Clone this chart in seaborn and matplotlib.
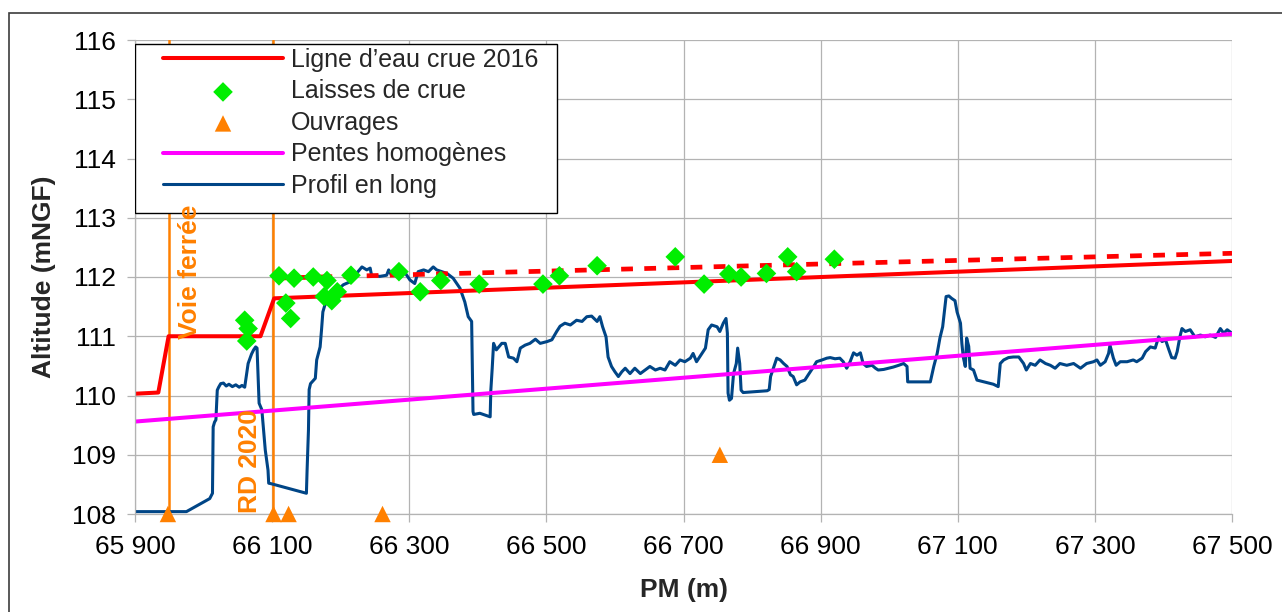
import matplotlib
matplotlib.use("Agg")
import matplotlib.pyplot as plt
import seaborn as sns
from matplotlib.patches import Rectangle
from matplotlib.ticker import FuncFormatter, FixedLocator, MultipleLocator

# --- Ligne d'eau de la crue 2016 (trait continu) ---
ligne_pm = [65900, 65934, 65949, 66083, 66103, 67500]
ligne_z = [110.03, 110.05, 111.00, 111.00, 111.64, 112.27]

# --- Ligne d'eau calée sur les laisses (pointillés) ---
ligne_laisses_pm = [66103, 67500]
ligne_laisses_z = [111.98, 112.40]

# --- Laisses de crue ---
laisses_pm = [66060, 66065, 66063, 66110, 66132, 66120, 66127, 66160, 66180,
              66176, 66187, 66195, 66215, 66285, 66316, 66346, 66402, 66495,
              66519, 66574, 66688, 66730, 66766, 66784, 66821, 66852, 66865,
              66920]
laisses_z = [111.27, 111.13, 110.92, 112.02, 111.98, 111.56, 111.30, 112.00,
             111.94, 111.67, 111.60, 111.75, 112.03, 112.09, 111.75, 111.94,
             111.88, 111.88, 112.02, 112.19, 112.34, 111.88, 112.05, 112.00,
             112.06, 112.34, 112.09, 112.30]

# --- Ouvrages ---
ouvrages_pm = [65948, 66102, 66124, 66261, 66753]
ouvrages_z = [108.0, 108.0, 108.0, 108.0, 109.0]

# --- Pentes homogènes ---
pentes_pm = [65900, 67500]
pentes_z = [109.56, 111.04]

# --- Repères des franchissements ---
reperes_pm = [65950, 66102]
reperes_noms = ["Voie ferrée", "RD 2020"]
reperes_z_texte = [110.95, 108.02]

# --- Graduations de l'axe des PM ---
graduations_pm = [65900, 66100, 66300, 66500, 66700, 66900, 67100, 67300, 67500]

# --- Profil en long du fond ---
profil_pm = [
    65900, 65975, 66009, 66013, 66014, 66016, 66018, 66020, 66022, 66025,
    66029, 66033, 66037, 66042, 66047, 66052, 66056, 66060, 66065, 66070,
    66073, 66076, 66078, 66081, 66085, 66090, 66094, 66095, 66099, 66150,
    66151, 66153, 66154, 66156, 66163, 66165, 66170, 66172, 66174, 66177,
    66182, 66189, 66197, 66204, 66214, 66221, 66231, 66238, 66243, 66245,
    66257, 66267, 66270, 66274, 66282, 66291, 66301, 66308, 66313, 66321,
    66328, 66335, 66340, 66355, 66364, 66374, 66381, 66386, 66391, 66393,
    66394, 66403, 66418, 66419, 66421, 66423, 66427, 66435, 66440, 66445,
    66452, 66457, 66462, 66469, 66476, 66484, 66491, 66501, 66508, 66515,
    66520, 66527, 66535, 66544, 66552, 66559, 66566, 66574, 66578, 66582,
    66587, 66590, 66595, 66600, 66605, 66610, 66615, 66622, 66629, 66637,
    66644, 66651, 66659, 66666, 66673, 66680, 66688, 66695, 66702, 66710,
    66714, 66719, 66727, 66732, 66736, 66741, 66749, 66753, 66758, 66762,
    66764, 66765, 66767, 66770, 66773, 66777, 66779, 66782, 66784, 66787,
    66822, 66825, 66827, 66831, 66836, 66841, 66846, 66851, 66856, 66860,
    66865, 66870, 66877, 66882, 66890, 66894, 66902, 66909, 66914, 66921,
    66928, 66933, 66938, 66943, 66948, 66953, 66958, 66962, 66967, 66975,
    66980, 66984, 66992, 66999, 67006, 67014, 67021, 67026, 67027, 67060,
    67065, 67070, 67074, 67078, 67083, 67087, 67091, 67096, 67099, 67104,
    67106, 67108, 67111, 67113, 67116, 67118, 67123, 67128, 67152, 67159,
    67162, 67167, 67174, 67181, 67189, 67196, 67200, 67206, 67213, 67220,
    67228, 67235, 67242, 67249, 67259, 67269, 67279, 67288, 67298, 67303,
    67308, 67315, 67320, 67322, 67327, 67331, 67337, 67347, 67356, 67361,
    67369, 67374, 67381, 67388, 67393, 67398, 67403, 67408, 67412, 67417,
    67420, 67424, 67427, 67432, 67439, 67446, 67454, 67461, 67468, 67476,
    67483, 67488, 67493, 67500]
profil_z = [
    108.04, 108.04, 108.26, 108.35, 109.47, 109.55, 109.59, 110.09, 110.14, 110.20,
    110.21, 110.16, 110.19, 110.15, 110.18, 110.14, 110.17, 110.14, 110.54, 110.70,
    110.77, 110.82, 110.80, 109.87, 109.76, 109.08, 108.74, 108.52, 108.51, 108.35,
    108.74, 109.42, 110.10, 110.20, 110.29, 110.60, 110.82, 111.10, 111.41, 111.53,
    111.58, 111.70, 111.80, 111.87, 111.92, 112.03, 112.17, 112.12, 112.15, 112.03,
    112.01, 112.03, 112.12, 112.03, 112.09, 112.12, 111.95, 111.89, 112.09, 112.12,
    112.09, 112.17, 112.12, 112.06, 111.98, 111.81, 111.58, 111.33, 111.25, 109.73,
    109.68, 109.70, 109.64, 110.09, 110.46, 110.88, 110.77, 110.88, 110.88, 110.65,
    110.63, 110.57, 110.80, 110.85, 110.88, 110.95, 110.88, 110.91, 110.94, 111.08,
    111.17, 111.22, 111.19, 111.27, 111.25, 111.33, 111.34, 111.25, 111.33, 111.16,
    110.99, 110.65, 110.49, 110.40, 110.32, 110.40, 110.46, 110.37, 110.46, 110.37,
    110.43, 110.49, 110.43, 110.46, 110.43, 110.57, 110.51, 110.60, 110.57, 110.63,
    110.71, 110.57, 110.71, 110.80, 111.11, 111.19, 111.16, 111.08, 111.22, 111.30,
    111.05, 110.04, 109.92, 109.95, 110.37, 110.54, 110.80, 110.54, 110.09, 110.05,
    110.08, 110.10, 110.32, 110.46, 110.63, 110.60, 110.54, 110.49, 110.35, 110.32,
    110.18, 110.23, 110.26, 110.35, 110.49, 110.57, 110.60, 110.63, 110.64, 110.62,
    110.63, 110.57, 110.46, 110.57, 110.72, 110.68, 110.72, 110.54, 110.49, 110.51,
    110.46, 110.43, 110.44, 110.46, 110.48, 110.51, 110.54, 110.49, 110.23, 110.23,
    110.49, 110.71, 110.97, 111.16, 111.67, 111.68, 111.64, 111.60, 111.41, 111.22,
    110.88, 110.65, 110.49, 110.97, 110.83, 110.46, 110.43, 110.26, 110.19, 110.15,
    110.54, 110.60, 110.64, 110.65, 110.65, 110.54, 110.43, 110.54, 110.51, 110.60,
    110.54, 110.51, 110.46, 110.54, 110.51, 110.54, 110.46, 110.54, 110.57, 110.60,
    110.51, 110.57, 110.71, 110.85, 110.63, 110.51, 110.57, 110.57, 110.60, 110.57,
    110.63, 110.74, 110.82, 110.80, 110.99, 110.91, 110.94, 110.77, 110.64, 110.63,
    110.74, 110.99, 111.13, 111.08, 111.11, 110.99, 111.02, 110.99, 111.02, 110.98,
    111.13, 111.05, 111.11, 111.05]

ROUGE = "#ff0000"
VERT = "#00ee00"
ORANGE = "#ff8000"
MAGENTA = "#ff00ff"
BLEU = "#004586"
GRIS = "#b3b3b3"

sns.set_theme(style="white")
plt.rcParams["font.family"] = ["Liberation Sans", "DejaVu Sans"]

fig = plt.figure(figsize=(12.82, 6.12), dpi=100)
ax = fig.add_axes([135 / 1282, 1 - 514 / 612, 1097 / 1282, 474 / 612])

# cadre extérieur du graphique
fig.add_artist(Rectangle((9 / 1282, -0.1), 1.2, 1.1 - 13 / 612,
                         transform=fig.transFigure, fill=False,
                         edgecolor="#3c3c3c", linewidth=1.2, zorder=0))

# franchissements
for pm in reperes_pm:
    ax.axvline(pm, color=ORANGE, linewidth=1.8, zorder=1.5)

sns.lineplot(x=profil_pm, y=profil_z, ax=ax, color=BLEU, linewidth=2.2,
             sort=False, estimator=None, label="Profil en long", zorder=2)
sns.lineplot(x=pentes_pm, y=pentes_z, ax=ax, color=MAGENTA, linewidth=2.9,
             sort=False, estimator=None, label="Pentes homogènes", zorder=2.2)
sns.lineplot(x=ligne_pm, y=ligne_z, ax=ax, color=ROUGE, linewidth=2.9,
             sort=False, estimator=None, label="Ligne d\u2019eau crue 2016",
             zorder=2.4)
sns.lineplot(x=ligne_laisses_pm, y=ligne_laisses_z, ax=ax, color=ROUGE,
             linewidth=3.4, sort=False, estimator=None, zorder=2.4,
             dashes=False, linestyle=(0, (2.5, 2.4)), dash_capstyle="butt")
sns.scatterplot(x=ouvrages_pm, y=ouvrages_z, ax=ax, marker="^", s=140,
                color=ORANGE, edgecolor="none", label="Ouvrages", zorder=3,
                clip_on=False)
sns.scatterplot(x=laisses_pm, y=laisses_z, ax=ax, marker="D", s=100,
                color=VERT, edgecolor="none", label="Laisses de crue", zorder=3.2)

for pm, nom, z, dx in zip(reperes_pm, reperes_noms, reperes_z_texte, (15, -17)):
    ax.annotate(nom, xy=(pm, z), xytext=(dx, 0), textcoords="offset points",
                rotation=90, ha="center", va="bottom", color=ORANGE,
                fontsize=19, fontweight="bold", zorder=6)

ax.set_xlim(65900, 67500)
ax.set_ylim(108, 116)
ax.xaxis.set_major_locator(FixedLocator(graduations_pm))
ax.yaxis.set_major_locator(MultipleLocator(1))
ax.xaxis.set_major_formatter(
    FuncFormatter(lambda v, p: f"{int(round(v)):,}".replace(",", " ")))
ax.set_axisbelow(True)
ax.grid(True, color=GRIS, linewidth=0.9)
for side in ("top", "right"):
    ax.spines[side].set_visible(False)
for side in ("left", "bottom"):
    ax.spines[side].set_color(GRIS)
    ax.spines[side].set_linewidth(0.9)
ax.tick_params(axis="both", which="major", bottom=True, left=True,
               length=6, width=0.9, color=GRIS, labelsize=19,
               labelcolor="black")
ax.tick_params(axis="x", pad=9)
ax.tick_params(axis="y", pad=8)

ax.set_xlabel("PM (m)", fontsize=19, fontweight="bold", labelpad=14)
ax.set_ylabel("Altitude (mNGF)", fontsize=19, fontweight="bold", labelpad=11)

# légende
handles, labels = ax.get_legend_handles_labels()
par_nom = dict(zip(labels, handles))
ordre = ["Ligne d\u2019eau crue 2016", "Laisses de crue", "Ouvrages",
         "Pentes homogènes", "Profil en long"]
ax.add_patch(Rectangle((0, (514 - 213) / 474), (557 - 135) / 1097,
                       (213 - 44) / 474, transform=ax.transAxes,
                       facecolor="white", edgecolor="black", linewidth=1.0,
                       zorder=4.5))
ax.legend([par_nom[n] for n in ordre], ordre, loc="upper left",
          bbox_to_anchor=((163 - 135) / 1097, (514 - 48) / 474),
          frameon=False, borderpad=0, borderaxespad=0, fontsize=18,
          handlelength=4.8, handletextpad=0.32, labelspacing=0.3)

fig.savefig("out.png", dpi=100)
